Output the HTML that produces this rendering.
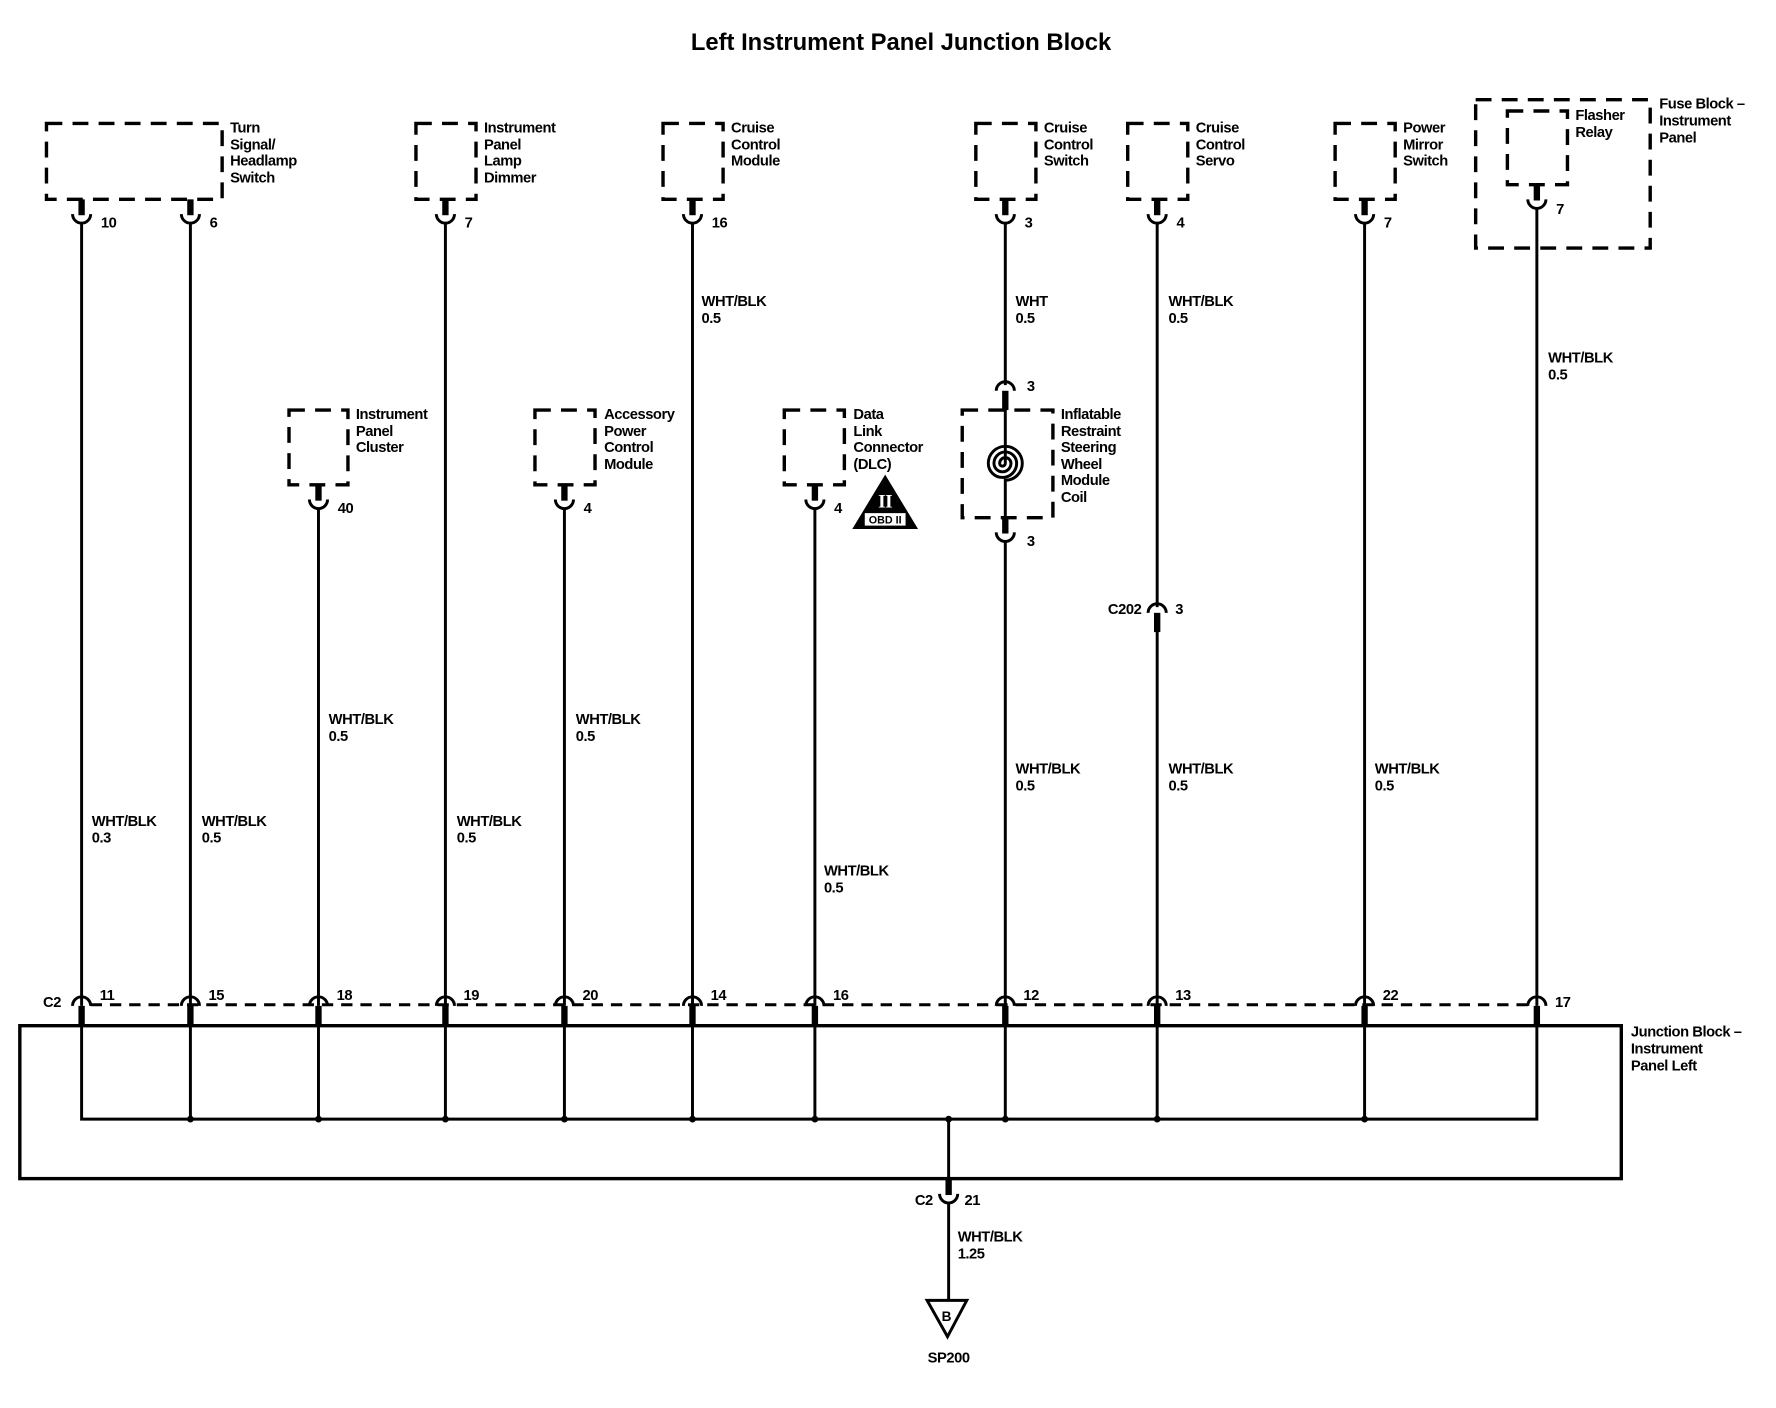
<!DOCTYPE html>
<html><head><meta charset="utf-8"><style>
html,body{margin:0;padding:0;background:#fff;}
svg{display:block;}
text{font-family:"Liberation Sans",Arial,sans-serif;font-weight:bold;font-size:13px;fill:#000;letter-spacing:-0.4px;}
.t{font-size:21px;letter-spacing:0;}
.db{fill:none;stroke:#000;stroke-width:3;stroke-dasharray:14 9;}
.w{stroke:#000;stroke-width:2.6;fill:none;}
</style></head><body>
<svg width="1776" height="1408" viewBox="0 0 1567 1243" preserveAspectRatio="none" xmlns="http://www.w3.org/2000/svg">
<defs>
<g id="cu"><rect x="-2.8" y="-14" width="5.6" height="14" fill="#000"/><path d="M-8,-1 A8,8 0 0 0 8,-1" class="w" stroke-width="3"/></g>
<g id="cn"><path d="M-8,5 A8,8 0 0 1 8,5" class="w" stroke-width="3"/><rect x="-2.8" y="5" width="5.6" height="17" fill="#000"/></g>
</defs>
<text class="t" x="795" y="44" text-anchor="middle">Left Instrument Panel Junction Block</text>

<rect class="db" x="41" y="109" width="155" height="67"/>
<text x="203" y="117">Turn</text><text x="203" y="132">Signal/</text><text x="203" y="146">Headlamp</text><text x="203" y="161">Switch</text>
<rect class="db" x="367" y="109" width="53" height="67"/>
<text x="427" y="117">Instrument</text><text x="427" y="132">Panel</text><text x="427" y="146">Lamp</text><text x="427" y="161">Dimmer</text>
<rect class="db" x="585" y="109" width="53" height="67"/>
<text x="645" y="117">Cruise</text><text x="645" y="132">Control</text><text x="645" y="146">Module</text>
<rect class="db" x="861" y="109" width="53" height="67"/>
<text x="921" y="117">Cruise</text><text x="921" y="132">Control</text><text x="921" y="146">Switch</text>
<rect class="db" x="995" y="109" width="53" height="67"/>
<text x="1055" y="117">Cruise</text><text x="1055" y="132">Control</text><text x="1055" y="146">Servo</text>
<rect class="db" x="1178" y="109" width="53" height="67"/>
<text x="1238" y="117">Power</text><text x="1238" y="132">Mirror</text><text x="1238" y="146">Switch</text>
<rect class="db" x="1302" y="88" width="154" height="131"/>
<rect class="db" x="1330" y="98" width="53" height="65"/>
<text x="1390" y="106">Flasher</text><text x="1390" y="121">Relay</text>
<text x="1464" y="96">Fuse Block –</text><text x="1464" y="111">Instrument</text><text x="1464" y="126">Panel</text>

<use href="#cu" x="72" y="190"/><text x="89" y="201">10</text>
<use href="#cu" x="168" y="190"/><text x="185" y="201">6</text>
<use href="#cu" x="393" y="190"/><text x="410" y="201">7</text>
<use href="#cu" x="611" y="190"/><text x="628" y="201">16</text>
<use href="#cu" x="887" y="190"/><text x="904" y="201">3</text>
<use href="#cu" x="1021" y="190"/><text x="1038" y="201">4</text>
<use href="#cu" x="1204" y="190"/><text x="1221" y="201">7</text>
<use href="#cu" x="1356" y="177"/><text x="1373" y="189">7</text>

<rect class="db" x="255" y="362" width="52" height="66"/>
<text x="314" y="370">Instrument</text><text x="314" y="385">Panel</text><text x="314" y="399">Cluster</text>
<use href="#cu" x="281" y="442"/><text x="298" y="453">40</text>
<rect class="db" x="472" y="362" width="53" height="66"/>
<text x="533" y="370">Accessory</text><text x="533" y="385">Power</text><text x="533" y="399">Control</text><text x="533" y="414">Module</text>
<use href="#cu" x="498" y="442"/><text x="515" y="453">4</text>
<rect class="db" x="692" y="362" width="53" height="66"/>
<text x="753" y="370">Data</text><text x="753" y="385">Link</text><text x="753" y="399">Connector</text><text x="753" y="414">(DLC)</text>
<use href="#cu" x="719" y="442"/><text x="736" y="453">4</text>
<polygon points="781,419 752,467 810,467" fill="#000"/>
<text x="781" y="448" text-anchor="middle" style="fill:#fff;font-family:'Liberation Serif',serif;font-size:17px">II</text>
<rect x="763" y="453" width="36" height="11" fill="#fff"/>
<text x="781" y="462" text-anchor="middle" style="font-size:9.5px;letter-spacing:0">OBD II</text>

<use href="#cn" x="887" y="340"/><text x="906" y="345">3</text>
<rect class="db" x="849" y="362" width="80" height="95"/>
<text x="936" y="370">Inflatable</text><text x="936" y="385">Restraint</text><text x="936" y="399">Steering</text><text x="936" y="414">Wheel</text><text x="936" y="428">Module</text><text x="936" y="443">Coil</text>
<path class="w" d="M887,362 V409 A2.5,2.5 0 0 1 882,409 A5,5 0 0 1 892,409 A7.5,7.5 0 0 1 877,409 A10,10 0 0 1 897,409 A12.5,12.5 0 0 1 872,409 A15,15 0 0 1 902,409 A15,15 0 0 1 887,424 V471"/>
<use href="#cu" x="887" y="471"/><text x="906" y="482">3</text>

<use href="#cn" x="1021" y="536"/><text x="1007" y="542" text-anchor="end">C202</text><text x="1037" y="542">3</text>

<path class="w" d="M72,196 V888 M168,196 V888 M393,196 V888 M611,196 V888 M887,196 V340 M887,478 V888 M1021,196 V536 M1021,556 V888 M1204,196 V888 M1356,183 V888 M281,448 V888 M719,448 V888"/>
<path class="w" d="M498,448 V888" stroke-width="3.2"/>

<text x="619" y="270">WHT/BLK</text><text x="619" y="285">0.5</text>
<text x="896" y="270">WHT</text><text x="896" y="285">0.5</text>
<text x="1031" y="270">WHT/BLK</text><text x="1031" y="285">0.5</text>
<text x="1366" y="320">WHT/BLK</text><text x="1366" y="335">0.5</text>
<text x="290" y="639">WHT/BLK</text><text x="290" y="654">0.5</text>
<text x="508" y="639">WHT/BLK</text><text x="508" y="654">0.5</text>
<text x="896" y="683">WHT/BLK</text><text x="896" y="698">0.5</text>
<text x="1031" y="683">WHT/BLK</text><text x="1031" y="698">0.5</text>
<text x="1213" y="683">WHT/BLK</text><text x="1213" y="698">0.5</text>
<text x="81" y="729">WHT/BLK</text><text x="81" y="744">0.3</text>
<text x="178" y="729">WHT/BLK</text><text x="178" y="744">0.5</text>
<text x="403" y="729">WHT/BLK</text><text x="403" y="744">0.5</text>
<text x="727" y="773">WHT/BLK</text><text x="727" y="788">0.5</text>

<path d="M80,887 H1348" stroke="#000" stroke-width="2.6" stroke-dasharray="10 7"/>
<g>
<use href="#cn" x="72" y="883"/><use href="#cn" x="168" y="883"/><use href="#cn" x="281" y="883"/><use href="#cn" x="393" y="883"/><use href="#cn" x="498" y="883"/><use href="#cn" x="611" y="883"/><use href="#cn" x="719" y="883"/><use href="#cn" x="887" y="883"/><use href="#cn" x="1021" y="883"/><use href="#cn" x="1204" y="883"/><use href="#cn" x="1356" y="883"/>
</g>
<text x="38" y="889">C2</text>
<text x="88" y="883">11</text><text x="184" y="883">15</text><text x="297" y="883">18</text><text x="409" y="883">19</text><text x="514" y="883">20</text><text x="627" y="883">14</text><text x="735" y="883">16</text><text x="903" y="883">12</text><text x="1037" y="883">13</text><text x="1220" y="883">22</text><text x="1372" y="889">17</text>

<rect x="17.5" y="905.5" width="1413" height="135" fill="none" stroke="#000" stroke-width="3"/>
<text x="1439" y="915">Junction Block –</text><text x="1439" y="930">Instrument</text><text x="1439" y="945">Panel Left</text>
<path class="w" d="M72,905 V988 H1356 V905 M168,905 V988 M281,905 V988 M393,905 V988 M498,905 V988 M611,905 V988 M719,905 V988 M887,905 V988 M1021,905 V988 M1204,905 V988 M837,988 V1040"/>
<g fill="#000"><circle cx="168" cy="988" r="3"/><circle cx="281" cy="988" r="3"/><circle cx="393" cy="988" r="3"/><circle cx="498" cy="988" r="3"/><circle cx="611" cy="988" r="3"/><circle cx="719" cy="988" r="3"/><circle cx="837" cy="988" r="3"/><circle cx="887" cy="988" r="3"/><circle cx="1021" cy="988" r="3"/><circle cx="1204" cy="988" r="3"/></g>

<use href="#cu" x="837" y="1055"/>
<text x="823" y="1064" text-anchor="end">C2</text><text x="851" y="1064">21</text>
<path class="w" d="M837,1061 V1148"/>
<text x="845" y="1096">WHT/BLK</text><text x="845" y="1111">1.25</text>
<polygon points="818,1148 853,1148 836,1180" fill="#fff" stroke="#000" stroke-width="2.6" stroke-linejoin="miter"/>
<text x="835" y="1166" text-anchor="middle" style="font-size:12px">B</text>
<text x="837" y="1203" text-anchor="middle">SP200</text>
</svg>
</body></html>
